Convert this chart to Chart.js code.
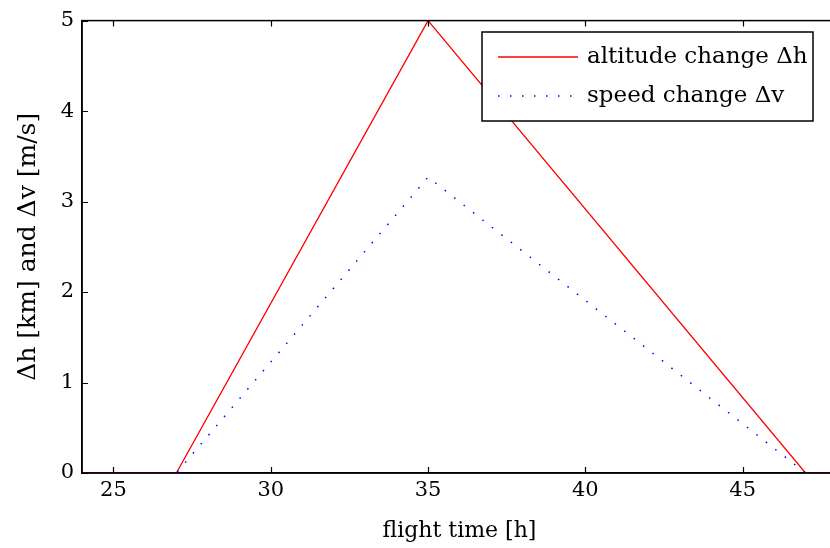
<!DOCTYPE html>
<html lang="en">
<head>
<meta charset="utf-8"/>
<title>altitude and speed change</title>
<script src="https://cdn.jsdelivr.net/npm/chart.js"></script>
<style>
  body { margin: 0; background: #fff; overflow: hidden; }
  .wrap { width: 840px; height: 548px; }
</style>
</head>
<body>
<div class="wrap"><canvas id="chart" width="840" height="548"></canvas></div>
<script>
const flightTime = [24, 27, 35, 47, 48];
const altitudeChange = [0, 0, 5, 0, 0];
const speedChange = [0, 0, 3.27, 0, 0];
const xTicks = [25, 30, 35, 40, 45];
const yTicks = [0, 1, 2, 3, 4, 5];

const serif = "'DejaVu Serif', serif";

// box round the plot + ticks pointing inwards
const framePlugin = {
  id: 'frame',
  afterDatasetsDraw(chart) {
    const c = chart.ctx, a = chart.chartArea;
    const xs = chart.scales.x, ys = chart.scales.y;
    c.save();
    c.strokeStyle = '#000';
    c.lineWidth = 1.5;
    c.strokeRect(a.left, a.top, a.right - a.left, a.bottom - a.top);
    c.lineWidth = 1.2;
    c.beginPath();
    xTicks.forEach(v => {
      const px = Math.round(xs.getPixelForValue(v)) + 0.5;
      c.moveTo(px, a.bottom); c.lineTo(px, a.bottom - 6);
      c.moveTo(px, a.top); c.lineTo(px, a.top + 6);
    });
    yTicks.forEach(v => {
      const py = Math.round(ys.getPixelForValue(v)) + 0.5;
      c.moveTo(a.left, py); c.lineTo(a.left + 6, py);
      c.moveTo(a.right, py); c.lineTo(a.right - 6, py);
    });
    c.stroke();
    c.restore();
  }
};

// legend box in the upper right corner
const legendPlugin = {
  id: 'boxLegend',
  afterDraw(chart) {
    const c = chart.ctx;
    const box = { x: 482, y: 32, w: 331, h: 89 };
    c.save();
    c.fillStyle = '#fff';
    c.fillRect(box.x, box.y, box.w, box.h);
    c.strokeStyle = '#000';
    c.lineWidth = 1.5;
    c.strokeRect(box.x, box.y, box.w, box.h);
    c.font = '23px ' + serif;
    c.textBaseline = 'middle';
    chart.data.datasets.forEach((ds, i) => {
      const y = box.y + 25 + i * 39;
      c.strokeStyle = ds.borderColor;
      c.lineWidth = ds.borderWidth;
      c.setLineDash(ds.borderDash || []);
      c.beginPath();
      c.moveTo(498, y); c.lineTo(578, y);
      c.stroke();
      c.setLineDash([]);
      c.fillStyle = '#000';
      c.fillText(ds.label, 587, y);
    });
    c.restore();
  }
};

new Chart(document.getElementById('chart'), {
  type: 'line',
  data: {
    labels: flightTime,
    datasets: [{
      label: 'altitude change Δh',
      data: flightTime.map((x, i) => ({ x: x, y: altitudeChange[i] })),
      borderColor: '#ff0000',
      borderWidth: 1.3,
      pointRadius: 0,
      tension: 0,
      order: 1
    }, {
      label: 'speed change Δv',
      data: flightTime.map((x, i) => ({ x: x, y: speedChange[i] })),
      borderColor: '#0000ff',
      borderWidth: 1.5,
      borderDash: [1.5, 10.5],
      pointRadius: 0,
      tension: 0,
      order: 0
    }]
  },
  options: {
    responsive: false,
    animation: false,
    devicePixelRatio: 1,
    layout: { padding: { top: 19, right: 3, left: 0, bottom: 0 } },
    plugins: { legend: { display: false }, tooltip: { enabled: false } },
    scales: {
      x: {
        type: 'linear',
        min: 24,
        max: 48,
        afterBuildTicks: s => { s.ticks = xTicks.map(v => ({ value: v })); },
        afterFit: s => { s.height = 75; },
        ticks: { color: '#000', font: { family: serif, size: 21 }, padding: 5, maxRotation: 0 },
        grid: { drawOnChartArea: false, drawTicks: false },
        border: { color: '#000', width: 1.5 },
        title: { display: true, text: 'flight time [h]', color: '#000', font: { family: serif, size: 22 }, padding: { top: 6 } }
      },
      y: {
        min: 0,
        max: 5,
        afterBuildTicks: s => { s.ticks = yTicks.map(v => ({ value: v })); },
        afterFit: s => { s.width = 82; },
        ticks: { color: '#000', font: { family: serif, size: 21 }, padding: 8 },
        grid: { drawOnChartArea: false, drawTicks: false },
        border: { color: '#000', width: 1.5 },
        title: { display: true, text: 'Δh [km] and Δv [m/s]', color: '#000', font: { family: serif, size: 25 }, padding: { top: 13 } }
      }
    }
  },
  plugins: [framePlugin, legendPlugin]
});
</script>
</body>
</html>
